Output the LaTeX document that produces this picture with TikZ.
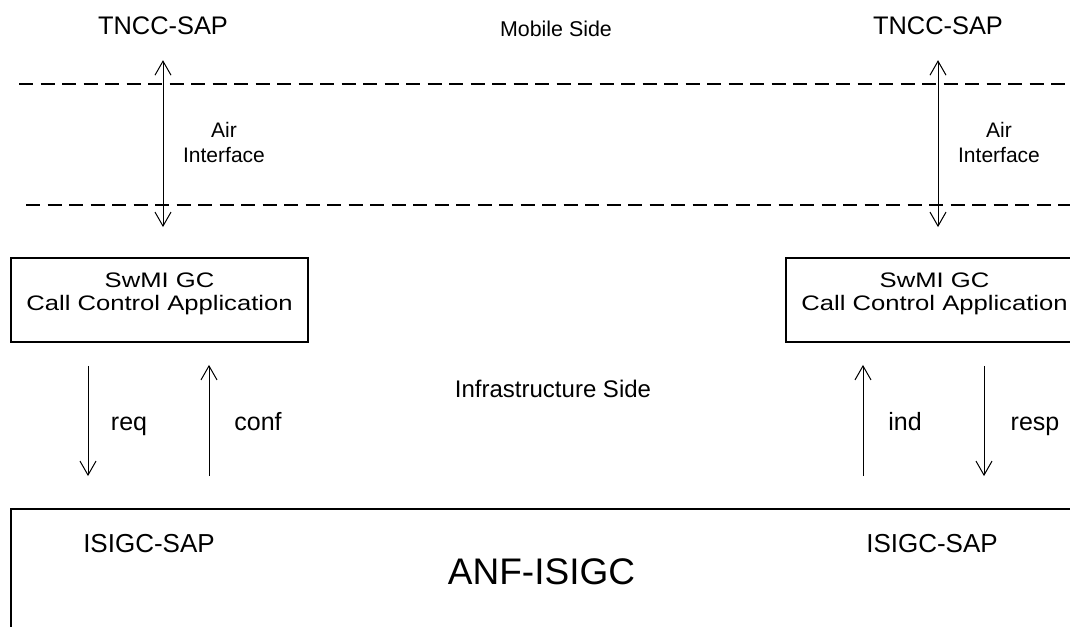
\documentclass[tikz,border=0pt]{standalone}
\usepackage{fontspec}
\setmainfont{Liberation Sans}
\usepackage{graphicx}
\usetikzlibrary{arrows.meta}
\begin{document}
\begin{tikzpicture}[x=1pt,y=-1pt,
  lbl/.style={inner sep=0pt, anchor=base},
  dashline/.style={line width=2pt, dash pattern=on 14pt off 7.5pt},
  gcbox/.style={draw, line width=1.8pt, minimum width=297pt, minimum height=84pt, inner sep=0pt},
  boxtxt/.style={inner sep=0pt, font=\fontsize{21}{23}\selectfont},
  anfbox/.style={draw, line width=1.8pt, minimum width=1061pt, minimum height=125pt, inner sep=0pt, font=\fontsize{37}{40}\selectfont},
  airlbl/.style={inner sep=0pt, align=center, font=\fontsize{21}{25}\selectfont},
  sig/.style={line width=1pt, -{Straight Barb[length=14pt,width=16pt]}},
  dbl/.style={line width=1pt, {Straight Barb[length=14pt,width=16pt]}-{Straight Barb[length=14pt,width=16pt]}},
  tnccfont/.style={font=\fontsize{25.4}{30}\selectfont},
  sigfont/.style={font=\fontsize{25}{30}\selectfont}
]
\useasboundingbox (0,0) rectangle (1070,626);
\clip (0,0) rectangle (1070,626);

% top labels
\node[lbl, tnccfont] (tnccL) at (163,35) {TNCC-SAP};
\node[lbl, tnccfont] (tnccR) at (938,35) {TNCC-SAP};
\node[lbl, font=\fontsize{21.4}{26}\selectfont] (mobile) at (556,37) {Mobile Side};

% dashed air interface boundaries
\draw[dashline] (19,84) -- (1070,84);
\draw[dashline] (26,205) -- (1070,205);

% call control boxes
\node[gcbox] (gcl) at (159.5,300) {};
\node[boxtxt] (gcltxt) at (159.5,293.9) {\scalebox{1.22}[1]{\begin{tabular}{@{}c@{}}SwMI GC\\Call Control Application\end{tabular}}};
\node[gcbox] (gcr) at (934.5,300) {};
\node[boxtxt] (gcrtxt) at (934.5,293.9) {\scalebox{1.22}[1]{\begin{tabular}{@{}c@{}}SwMI GC\\Call Control Application\end{tabular}}};

% air interface arrows
\draw[dbl, shorten <=24.7pt, shorten >=30pt] (tnccL.south) -- (tnccL.south |- gcl.north);
\draw[dbl, shorten <=24.7pt, shorten >=30pt] (tnccR.south) -- (tnccR.south |- gcr.north);
\node[airlbl] (airL) at (224,142) {Air\\Interface};
\node[airlbl] (airR) at (999,142) {Air\\Interface};

% infrastructure label
\node[lbl, font=\fontsize{24}{28}\selectfont] (infra) at (553,397) {Infrastructure Side};

% bottom ANF box
\node[anfbox] (anf) at (541.5,571.5) {ANF-ISIGC};
\node[lbl, font=\fontsize{26}{30}\selectfont] (isapL) at (149,552) {ISIGC-SAP};
\node[lbl, font=\fontsize{26}{30}\selectfont] (isapR) at (932,552) {ISIGC-SAP};

% primitives
\draw[sig, shorten <=23pt, shorten >=32pt] ([xshift=-71.5pt]gcl.south) -- ([xshift=-71.5pt]gcl.south |- anf.north);
\draw[sig, shorten <=32pt, shorten >=22pt] ([xshift=49.5pt]gcl.south |- anf.north) -- ([xshift=49.5pt]gcl.south);
\draw[sig, shorten <=32pt, shorten >=22pt] ([xshift=-71.5pt]gcr.south |- anf.north) -- ([xshift=-71.5pt]gcr.south);
\draw[sig, shorten <=23pt, shorten >=32pt] ([xshift=49.5pt]gcr.south) -- ([xshift=49.5pt]gcr.south |- anf.north);

\node[lbl, sigfont] (req) at (129,430) {req};
\node[lbl, sigfont] (conf) at (258,430) {conf};
\node[lbl, sigfont] (ind) at (905,430) {ind};
\node[lbl, sigfont] (resp) at (1035,430) {resp};
\end{tikzpicture}
\end{document}
